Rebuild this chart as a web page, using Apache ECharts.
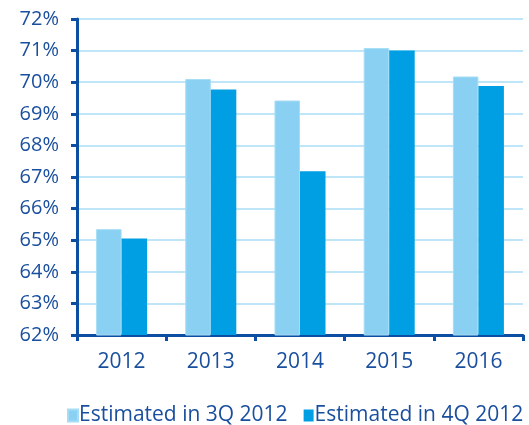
<!DOCTYPE html>
<html>
<head>
<meta charset="utf-8">
<script src="https://cdn.jsdelivr.net/npm/echarts@6/dist/echarts.min.js"></script>
<style>
  html, body { margin: 0; padding: 0; background: #ffffff; }
  #chart { width: 529px; height: 425px; }
</style>
</head>
<body>
<div id="chart"></div>
<script>
// Forecast share by year, two estimate vintages
const years = ['2012', '2013', '2014', '2015', '2016'];
const seriesNames = ['Estimated in 3Q 2012', 'Estimated in 4Q 2012'];
const estimated3Q = [65.35, 70.1, 69.42, 71.08, 70.18];
const estimated4Q = [65.05, 69.77, 67.18, 71.0, 69.88];

const axisBlue = '#0b4ea2';
const textBlue = '#1a4f9e';
const font = 'Open Sans';

const chart = echarts.init(document.getElementById('chart'), null, { renderer: 'canvas' });
chart.setOption({
  animation: false,
  backgroundColor: '#ffffff',
  grid: { left: 77, right: 6, top: 19, bottom: 90, containLabel: false },
  legend: {
    top: 400,
    left: 62,
    itemWidth: 10,
    itemHeight: 12,
    itemGap: 16,
    icon: 'rect',
    textStyle: { color: textBlue, fontFamily: font, fontSize: 21, padding: [0, 0, 0, -4] },
    data: seriesNames
  },
  xAxis: {
    type: 'category',
    data: years,
    axisLine: { lineStyle: { color: axisBlue, width: 3 } },
    axisTick: { show: true, length: 6, lineStyle: { color: axisBlue, width: 3 } },
    axisLabel: { color: textBlue, fontFamily: font, fontSize: 21, margin: 17 }
  },
  yAxis: {
    type: 'value',
    min: 62,
    max: 72,
    interval: 1,
    axisLine: { show: true, lineStyle: { color: axisBlue, width: 3 } },
    axisTick: { show: true, length: 6, lineStyle: { color: axisBlue, width: 3 } },
    axisLabel: { color: textBlue, fontFamily: font, fontSize: 20, margin: 18, formatter: '{value}%' },
    splitLine: { lineStyle: { color: '#bfe6f8', width: 2 } }
  },
  series: [
    {
      name: seriesNames[0],
      type: 'bar',
      data: estimated3Q,
      barWidth: '28.6%',
      barGap: '0%',
      itemStyle: { color: '#89d0f2', borderColor: '#a6ddf6', borderWidth: 1 }
    },
    {
      name: seriesNames[1],
      type: 'bar',
      data: estimated4Q,
      barWidth: '28.6%',
      itemStyle: { color: '#009fe3' }
    }
  ]
});
</script>
</body>
</html>
